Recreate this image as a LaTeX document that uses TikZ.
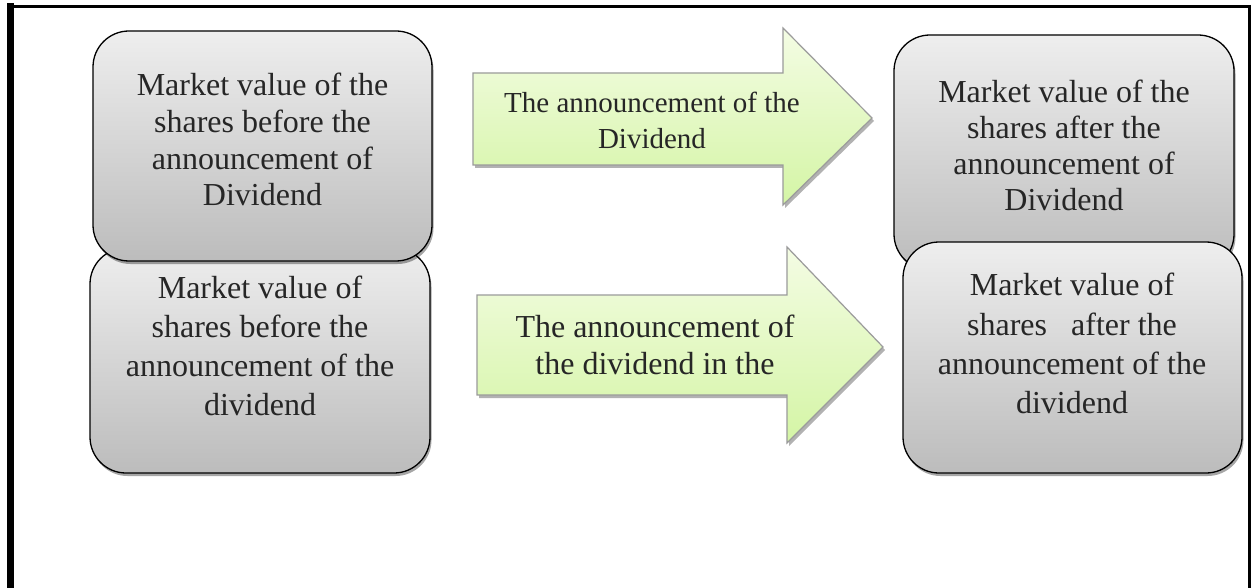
\documentclass[tikz,border=0pt]{standalone}
\usepackage{fontspec}
\setmainfont{Liberation Serif}
\usetikzlibrary{shadows}
\definecolor{boxtop}{RGB}{238,238,238}
\definecolor{boxbot}{RGB}{188,188,188}
\definecolor{arrtop}{RGB}{244,252,228}
\definecolor{arrbot}{RGB}{212,245,165}
\definecolor{arredge}{RGB}{155,155,155}
\definecolor{ink}{RGB}{38,38,38}

\begin{document}
\begin{tikzpicture}[x=1pt,y=-1pt,
  box/.style={draw, line width=1.3pt, rectangle, rounded corners=36pt, top color=boxtop, bottom color=boxbot,
    drop shadow={shadow xshift=1.5pt, shadow yshift=-3pt, fill=black, opacity=.35}},
  arr/.style={draw=arredge, line width=1.2pt, top color=arrtop, bottom color=arrbot,
    drop shadow={shadow xshift=2pt, shadow yshift=-3pt, fill=black, opacity=.3}},
  txt/.style={anchor=north, inner sep=0pt, align=center, text=ink}]
\useasboundingbox (0,0) rectangle (1253,588);
\fill[white] (0,0) rectangle (1253,588);
\draw[line width=3pt] (7,6.5) -- (1251,6.5);
\draw[line width=7pt] (10.5,3) -- (10.5,588);
\draw[line width=3.5pt] (1249.5,5) -- (1249.5,588);

\node[box, minimum width=340pt, minimum height=225pt] (b) at (260,360.5) {};
\node[box, minimum width=339pt, minimum height=230pt] (a) at (262.5,146) {};
\node[box, minimum width=340pt, minimum height=235pt] (c) at (1064,152.5) {};
\node[box, minimum width=339pt, minimum height=231pt] (d) at (1072.5,357.5) {};

\path[arr] (473,73) -- (783,73) -- (783,28) -- (872,118) -- (783,205) -- (783,165) -- (473,165) -- cycle;
\path[arr] (477,295) -- (787,295) -- (787,247) -- (883,347) -- (787,443) -- (787,395) -- (477,395) -- cycle;

\node[txt, font=\fontsize{32}{36.7}\selectfont] (a-txt) at (262.5,73) {Market value of the\\shares before the\\announcement of\\Dividend};
\node[txt, font=\fontsize{32}{39}\selectfont] (b-txt) at (260,276) {Market value of\\shares before the\\announcement of the\\dividend};
\node[txt, font=\fontsize{32}{36}\selectfont] (c-txt) at (1064,80) {Market value of the\\shares after the\\announcement of\\Dividend};
\node[txt, font=\fontsize{32}{39.3}\selectfont] (d-txt) at (1072,273) {Market value of\\shares\ \ \ after the\\announcement of the\\dividend};
\node[txt, font=\fontsize{29}{36}\selectfont] (e-txt) at (652,92) {The announcement of the\\Dividend};
\node[txt, font=\fontsize{32}{36.5}\selectfont] (f-txt) at (655,315) {The announcement of\\the dividend in the};
\end{tikzpicture}
\end{document}
